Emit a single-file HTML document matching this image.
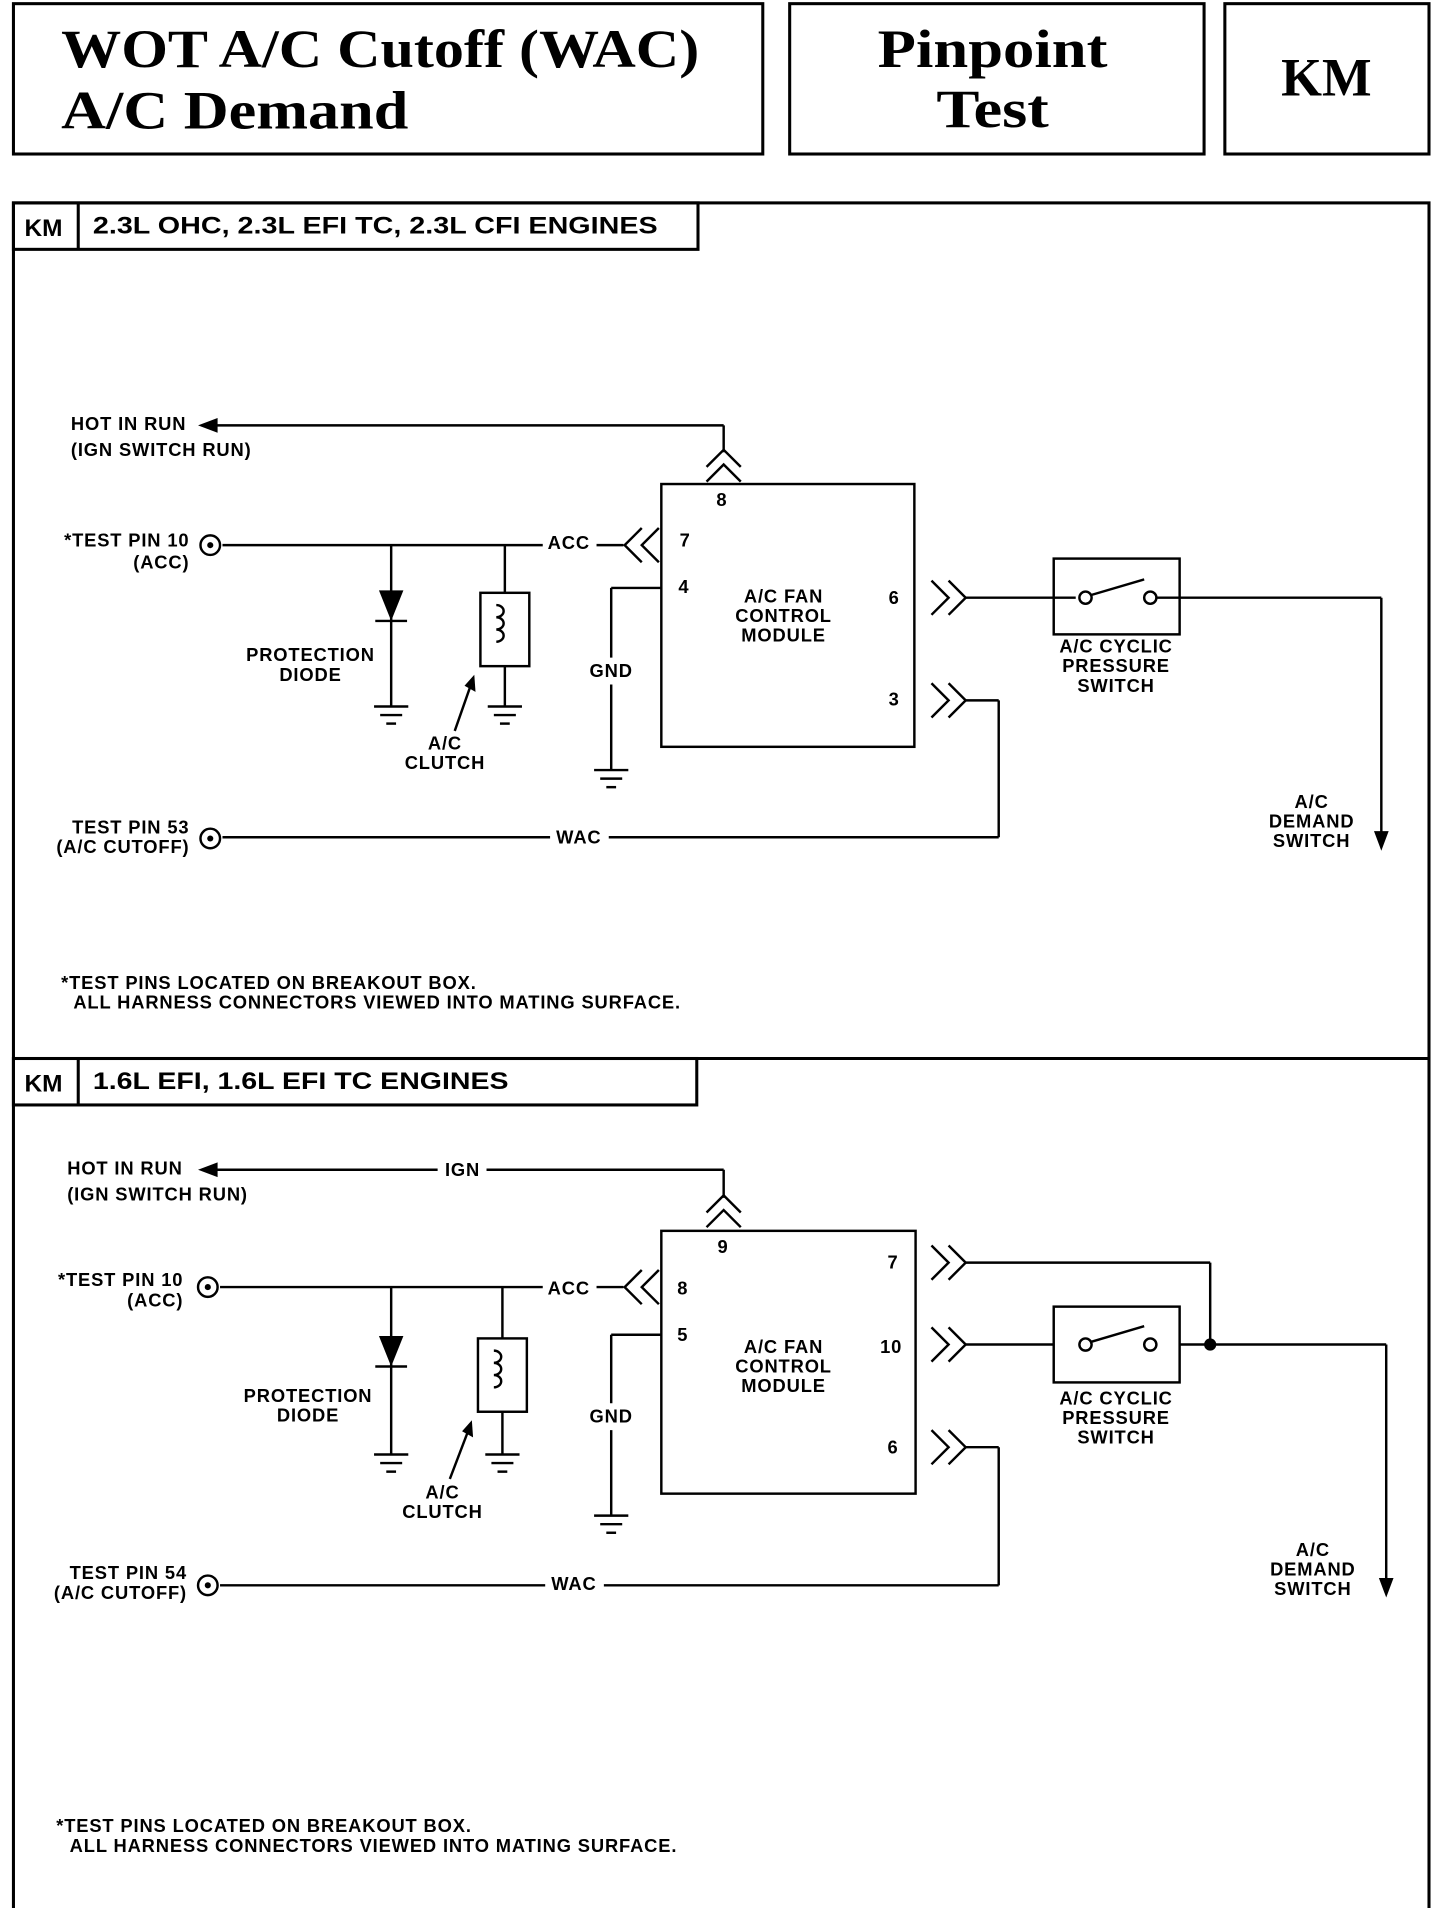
<!DOCTYPE html>
<html><head><meta charset="utf-8"><style>
html,body{margin:0;padding:0;background:#fff}
svg{display:block}
text{font-family:"Liberation Sans",Arial,sans-serif;font-weight:bold;fill:#000}
.s{font-size:15px;letter-spacing:0.7px}
.t{font-family:"Liberation Serif",serif;font-weight:bold}
</style></head><body>
<svg width="1440" height="1908" viewBox="0 0 1178 1561" preserveAspectRatio="none" xmlns="http://www.w3.org/2000/svg">
<g fill="none" stroke="#000" stroke-width="2.5">
<rect x="11" y="3" width="613" height="123"/>
<rect x="646" y="3" width="339" height="123"/>
<rect x="1002" y="3" width="167" height="123"/>
<rect x="11" y="166" width="1158" height="1398"/>
<line x1="11" y1="866" x2="1169" y2="866"/>
<rect x="11" y="166" width="560" height="38"/>
<line x1="64" y1="166" x2="64" y2="204"/>
<rect x="11" y="866" width="559" height="38"/>
<line x1="64" y1="866" x2="64" y2="904"/>
</g>
<text class="t" x="50" y="55" font-size="44" textLength="522" lengthAdjust="spacingAndGlyphs">WOT A/C Cutoff (WAC)</text>
<text class="t" x="50" y="105" font-size="44" textLength="284" lengthAdjust="spacingAndGlyphs">A/C Demand</text>
<text class="t" x="718" y="55" font-size="44" textLength="188" lengthAdjust="spacingAndGlyphs">Pinpoint</text>
<text class="t" x="766" y="104" font-size="44" textLength="92" lengthAdjust="spacingAndGlyphs">Test</text>
<text class="t" x="1048" y="78" font-size="44" textLength="74" lengthAdjust="spacingAndGlyphs">KM</text>
<text x="20" y="193" font-size="20">KM</text>
<text x="76" y="191" font-size="20" textLength="462" lengthAdjust="spacingAndGlyphs">2.3L OHC, 2.3L EFI TC, 2.3L CFI ENGINES</text>
<text x="20" y="893" font-size="20">KM</text>
<text x="76" y="891" font-size="20" textLength="340" lengthAdjust="spacingAndGlyphs">1.6L EFI, 1.6L EFI TC ENGINES</text>

<!-- Diagram 1 -->
<g fill="none" stroke="#000" stroke-width="2">
<line x1="165" y1="348" x2="592" y2="348"/><line x1="592" y1="348" x2="592" y2="370"/>
<polyline points="578,382 592,368 606,382"/><polyline points="578,394 592,380 606,394"/>
<rect x="541" y="396" width="207" height="215"/>
<circle cx="172" cy="446" r="8"/>
<line x1="182" y1="446" x2="444" y2="446"/><line x1="488" y1="446" x2="510" y2="446"/>
<polyline points="525,432 511,446 525,460"/><polyline points="539,432 525,446 539,460"/>
<line x1="320" y1="446" x2="320" y2="578"/>
<line x1="307" y1="508" x2="333" y2="508"/>
<line x1="413" y1="446" x2="413" y2="485"/><rect x="393" y="485" width="40" height="60"/>
<line x1="413" y1="545" x2="413" y2="578"/>
<path d="M406,495 a6,5 0 1 1 0,10 a6,5 0 1 1 0,10 a6,5 0 1 1 0,10"/>
<line x1="372" y1="598" x2="386" y2="558"/>
<line x1="541" y1="481" x2="500" y2="481"/><line x1="500" y1="481" x2="500" y2="538"/><line x1="500" y1="560" x2="500" y2="630"/>
<polyline points="762,475 776,489 762,503"/><polyline points="776,475 790,489 776,503"/>
<line x1="790" y1="489" x2="862" y2="489"/>
<rect x="862" y="457" width="103" height="62"/>
<line x1="862" y1="489" x2="880" y2="489"/><circle cx="888" cy="489" r="5"/><circle cx="941" cy="489" r="5"/>
<line x1="892" y1="487" x2="936" y2="474"/><line x1="946" y1="489" x2="965" y2="489"/>
<line x1="965" y1="489" x2="1130" y2="489"/><line x1="1130" y1="489" x2="1130" y2="684"/>
<polyline points="762,559 776,573 762,587"/><polyline points="776,559 790,573 776,587"/>
<line x1="790" y1="573" x2="817" y2="573"/><line x1="817" y1="573" x2="817" y2="685"/><line x1="817" y1="685" x2="498" y2="685"/>
<line x1="450" y1="685" x2="182" y2="685"/><circle cx="172" cy="686" r="8"/>
</g>
<g fill="#000">
<polygon points="162,348 178,342 178,354"/>
<polygon points="310,483 330,483 320,508"/>
<circle cx="172" cy="446" r="2.5"/><circle cx="172" cy="686" r="2.5"/>
<polygon points="388,552 389,566 380,561"/>
<polygon points="1124,680 1136,680 1130,696"/>
</g>
<g stroke="#000" stroke-width="2">
<line x1="306" y1="578" x2="334" y2="578"/><line x1="311" y1="585" x2="329" y2="585"/><line x1="316" y1="592" x2="324" y2="592"/>
<line x1="399" y1="578" x2="427" y2="578"/><line x1="404" y1="585" x2="422" y2="585"/><line x1="409" y1="592" x2="417" y2="592"/>
<line x1="486" y1="630" x2="514" y2="630"/><line x1="491" y1="637" x2="509" y2="637"/><line x1="496" y1="644" x2="504" y2="644"/>
</g>
<g>
<text x="58" y="352" class="s">HOT IN RUN</text>
<text x="58" y="373" class="s">(IGN SWITCH RUN)</text>
<text x="155" y="447" class="s" text-anchor="end">*TEST PIN 10</text>
<text x="155" y="465" class="s" text-anchor="end">(ACC)</text>
<text x="448" y="449" class="s">ACC</text>
<text x="586" y="414" class="s">8</text><text x="556" y="447" class="s">7</text><text x="555" y="485" class="s">4</text>
<text x="727" y="494" class="s">6</text><text x="727" y="577" class="s">3</text>
<text x="641" y="493" class="s" text-anchor="middle">A/C FAN</text>
<text x="641" y="509" class="s" text-anchor="middle">CONTROL</text>
<text x="641" y="525" class="s" text-anchor="middle">MODULE</text>
<text x="254" y="541" class="s" text-anchor="middle">PROTECTION</text>
<text x="254" y="557" class="s" text-anchor="middle">DIODE</text>
<text x="500" y="554" class="s" text-anchor="middle">GND</text>
<text x="364" y="613" class="s" text-anchor="middle">A/C</text>
<text x="364" y="629" class="s" text-anchor="middle">CLUTCH</text>
<text x="913" y="534" class="s" text-anchor="middle">A/C CYCLIC</text>
<text x="913" y="550" class="s" text-anchor="middle">PRESSURE</text>
<text x="913" y="566" class="s" text-anchor="middle">SWITCH</text>
<text x="1073" y="661" class="s" text-anchor="middle">A/C</text>
<text x="1073" y="677" class="s" text-anchor="middle">DEMAND</text>
<text x="1073" y="693" class="s" text-anchor="middle">SWITCH</text>
<text x="155" y="682" class="s" text-anchor="end">TEST PIN 53</text>
<text x="155" y="698" class="s" text-anchor="end">(A/C CUTOFF)</text>
<text x="455" y="690" class="s">WAC</text>
<text x="50" y="809" class="s">*TEST PINS LOCATED ON BREAKOUT BOX.</text>
<text x="60" y="825" class="s">ALL HARNESS CONNECTORS VIEWED INTO MATING SURFACE.</text>
</g>

<!-- Diagram 2 -->
<g fill="none" stroke="#000" stroke-width="2">
<line x1="165" y1="957" x2="358" y2="957"/><line x1="398" y1="957" x2="592" y2="957"/><line x1="592" y1="957" x2="592" y2="980"/>
<polyline points="578,992 592,978 606,992"/><polyline points="578,1004 592,990 606,1004"/>
<rect x="541" y="1007" width="208" height="215"/>
<circle cx="170" cy="1053" r="8"/>
<line x1="180" y1="1053" x2="444" y2="1053"/><line x1="488" y1="1053" x2="510" y2="1053"/>
<polyline points="525,1039 511,1053 525,1067"/><polyline points="539,1039 525,1053 539,1067"/>
<line x1="320" y1="1053" x2="320" y2="1190"/>
<line x1="307" y1="1118" x2="333" y2="1118"/>
<line x1="411" y1="1053" x2="411" y2="1095"/><rect x="391" y="1095" width="40" height="60"/>
<line x1="411" y1="1155" x2="411" y2="1190"/>
<path d="M404,1105 a6,5 0 1 1 0,10 a6,5 0 1 1 0,10 a6,5 0 1 1 0,10"/>
<line x1="368" y1="1210" x2="384" y2="1168"/>
<line x1="541" y1="1092" x2="500" y2="1092"/><line x1="500" y1="1092" x2="500" y2="1148"/><line x1="500" y1="1170" x2="500" y2="1240"/>
<polyline points="762,1019 776,1033 762,1047"/><polyline points="776,1019 790,1033 776,1047"/>
<line x1="790" y1="1033" x2="990" y2="1033"/><line x1="990" y1="1033" x2="990" y2="1100"/>
<polyline points="762,1086 776,1100 762,1114"/><polyline points="776,1086 790,1100 776,1114"/>
<line x1="790" y1="1100" x2="862" y2="1100"/>
<rect x="862" y="1069" width="103" height="62"/>
<circle cx="888" cy="1100" r="5"/><circle cx="941" cy="1100" r="5"/>
<line x1="892" y1="1098" x2="936" y2="1085"/>
<line x1="965" y1="1100" x2="1134" y2="1100"/><line x1="1134" y1="1100" x2="1134" y2="1294"/>
<polyline points="762,1170 776,1184 762,1198"/><polyline points="776,1170 790,1184 776,1198"/>
<line x1="790" y1="1184" x2="817" y2="1184"/><line x1="817" y1="1184" x2="817" y2="1297"/><line x1="817" y1="1297" x2="494" y2="1297"/>
<line x1="446" y1="1297" x2="180" y2="1297"/><circle cx="170" cy="1297" r="8"/>
</g>
<g fill="#000">
<polygon points="162,957 178,951 178,963"/>
<polygon points="310,1093 330,1093 320,1118"/>
<circle cx="170" cy="1053" r="2.5"/><circle cx="170" cy="1297" r="2.5"/>
<circle cx="990" cy="1100" r="5"/>
<polygon points="386,1162 387,1176 378,1171"/>
<polygon points="1128,1291 1140,1291 1134,1307"/>
</g>
<g stroke="#000" stroke-width="2">
<line x1="306" y1="1190" x2="334" y2="1190"/><line x1="311" y1="1197" x2="329" y2="1197"/><line x1="316" y1="1204" x2="324" y2="1204"/>
<line x1="397" y1="1190" x2="425" y2="1190"/><line x1="402" y1="1197" x2="420" y2="1197"/><line x1="407" y1="1204" x2="415" y2="1204"/>
<line x1="486" y1="1240" x2="514" y2="1240"/><line x1="491" y1="1247" x2="509" y2="1247"/><line x1="496" y1="1254" x2="504" y2="1254"/>
</g>
<g>
<text x="55" y="961" class="s">HOT IN RUN</text>
<text x="55" y="982" class="s">(IGN SWITCH RUN)</text>
<text x="364" y="962" class="s">IGN</text>
<text x="150" y="1052" class="s" text-anchor="end">*TEST PIN 10</text>
<text x="150" y="1069" class="s" text-anchor="end">(ACC)</text>
<text x="448" y="1059" class="s">ACC</text>
<text x="587" y="1025" class="s">9</text><text x="554" y="1059" class="s">8</text><text x="554" y="1097" class="s">5</text>
<text x="726" y="1038" class="s">7</text><text x="720" y="1107" class="s">10</text><text x="726" y="1189" class="s">6</text>
<text x="641" y="1107" class="s" text-anchor="middle">A/C FAN</text>
<text x="641" y="1123" class="s" text-anchor="middle">CONTROL</text>
<text x="641" y="1139" class="s" text-anchor="middle">MODULE</text>
<text x="252" y="1147" class="s" text-anchor="middle">PROTECTION</text>
<text x="252" y="1163" class="s" text-anchor="middle">DIODE</text>
<text x="500" y="1164" class="s" text-anchor="middle">GND</text>
<text x="362" y="1226" class="s" text-anchor="middle">A/C</text>
<text x="362" y="1242" class="s" text-anchor="middle">CLUTCH</text>
<text x="913" y="1149" class="s" text-anchor="middle">A/C CYCLIC</text>
<text x="913" y="1165" class="s" text-anchor="middle">PRESSURE</text>
<text x="913" y="1181" class="s" text-anchor="middle">SWITCH</text>
<text x="1074" y="1273" class="s" text-anchor="middle">A/C</text>
<text x="1074" y="1289" class="s" text-anchor="middle">DEMAND</text>
<text x="1074" y="1305" class="s" text-anchor="middle">SWITCH</text>
<text x="153" y="1292" class="s" text-anchor="end">TEST PIN 54</text>
<text x="153" y="1308" class="s" text-anchor="end">(A/C CUTOFF)</text>
<text x="451" y="1301" class="s">WAC</text>
<text x="46" y="1499" class="s">*TEST PINS LOCATED ON BREAKOUT BOX.</text>
<text x="57" y="1515" class="s">ALL HARNESS CONNECTORS VIEWED INTO MATING SURFACE.</text>
</g>
</svg>
</body></html>
